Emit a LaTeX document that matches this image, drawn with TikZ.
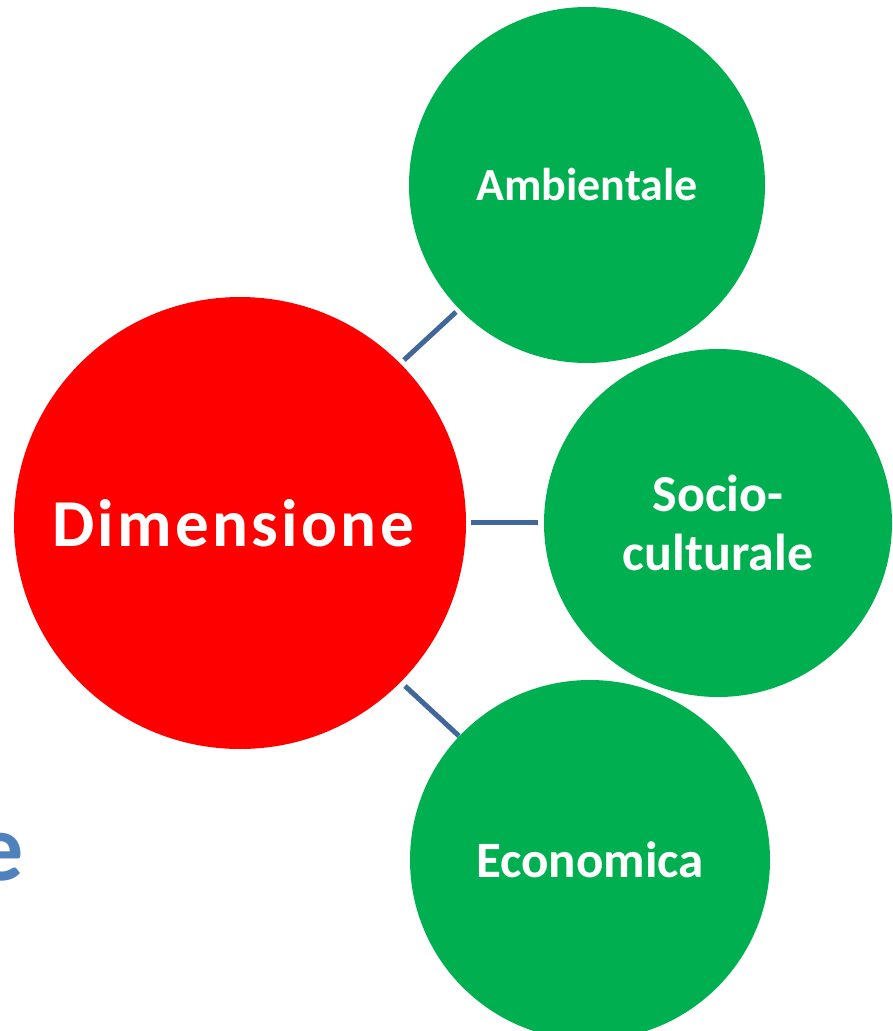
\documentclass[tikz,border=0pt]{standalone}
\usepackage{fontspec}
\setmainfont{Carlito}
\newfontfamily\dimfont[LetterSpace=5]{Carlito}
\definecolor{gr}{RGB}{0,176,80}
\definecolor{rd}{RGB}{255,0,0}
\definecolor{ln}{RGB}{65,103,154}
\definecolor{bl}{RGB}{79,129,189}
\begin{document}
\begin{tikzpicture}[x=1pt,y=-1pt,
  big/.style={circle,fill=rd,minimum size=452pt,inner sep=0pt},
  bigtext/.style={inner sep=0pt,text=white,font=\dimfont\bfseries\fontsize{67}{70}\selectfont},
  small/.style={circle,fill=gr,minimum size=356pt,inner sep=0pt,text=white,align=center,font=\bfseries\fontsize{46}{59}\selectfont},
  conn/.style={draw=ln,line width=5pt}]
\useasboundingbox (0,0) rectangle (893,1031);
\begin{scope}
\clip (0,0) rectangle (893,1031);
\node[text=bl,font=\bfseries\fontsize{96}{100}\selectfont,anchor=base] (e) at (0,880) {e};
\node[big] (dim) at (240,523) {};
\node[bigtext] (dimt) at (233,523) {Dimensione};
\node[small] (amb) at (587,185) {Ambientale};
\node[small,minimum size=348pt,font=\bfseries\fontsize{52}{59}\selectfont] (soc) at (718,523) {Socio-\\culturale};
\node[small,minimum size=360pt,font=\bfseries\fontsize{51}{59}\selectfont] (eco) at (590,860) {Economica};
\coordinate (a1) at (404,360); \coordinate (a2) at (456,312);
\coordinate (b1) at (471,522); \coordinate (b2) at (538,522);
\coordinate (c1) at (405,686); \coordinate (c2) at (459,736);
\draw[conn] (a1) -- (a2);
\draw[conn] (b1) -- (b2);
\draw[conn] (c1) -- (c2);
\end{scope}
\end{tikzpicture}
\end{document}
